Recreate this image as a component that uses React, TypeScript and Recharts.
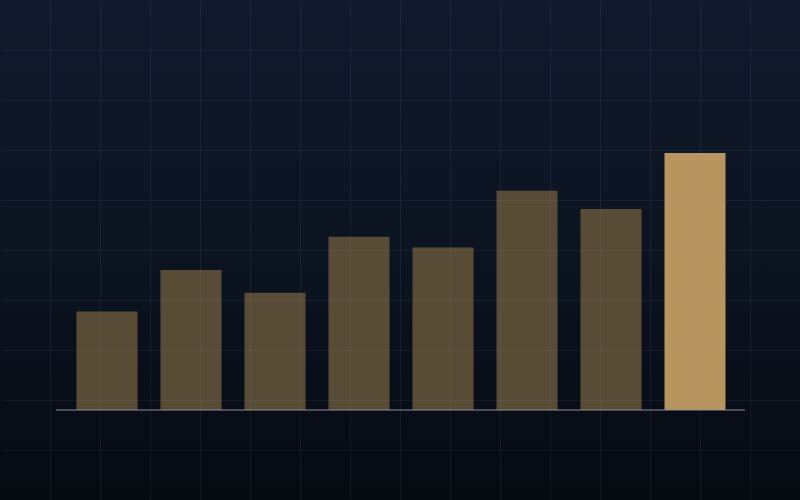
import { Bar, BarChart, Cell, ReferenceLine, XAxis, YAxis } from "recharts";

const categories = ["A", "B", "C", "D", "E", "F", "G", "H"];
const values = [24.6, 35, 29.3, 43.3, 40.6, 54.8, 50.25, 64.25];
const highlightIndex = 7;

const data = categories.map((name, i) => ({ name, value: values[i] }));

const gridBg =
  "repeating-linear-gradient(to right, transparent 0 49px, rgba(140,160,190,0.09) 49px 50px), " +
  "repeating-linear-gradient(to bottom, transparent 0 49px, rgba(140,160,190,0.09) 49px 50px)";

export default function App() {
  return (
    <div
      style={{
        position: "fixed",
        left: 0,
        top: 0,
        width: 800,
        height: 500,
        background: "linear-gradient(to bottom, #111a2c 0%, #0b1320 55%, #060a11 100%)",
        overflow: "hidden",
      }}
    >
      <BarChart
        width={800}
        height={500}
        data={data}
        margin={{ top: 10, right: 55, bottom: 90, left: 56 }}
      >
        <XAxis
          dataKey="name"
          height={0}
          tick={false}
          tickLine={false}
          axisLine={false}
          padding={{ left: 8.5, right: 8.5 }}
        />
        <YAxis hide domain={[0, 100]} />
        <Bar dataKey="value" barSize={61} isAnimationActive={false}>
          {data.map((d, i) => (
            <Cell key={d.name} fill={i === highlightIndex ? "#b8955e" : "#594c37"} />
          ))}
        </Bar>
        <ReferenceLine y={0} stroke="#8c9096" strokeWidth={1} />
      </BarChart>
      <div
        style={{
          position: "absolute",
          left: 1,
          top: 1,
          width: 800,
          height: 500,
          backgroundImage: gridBg,
          pointerEvents: "none",
        }}
      />
    </div>
  );
}
